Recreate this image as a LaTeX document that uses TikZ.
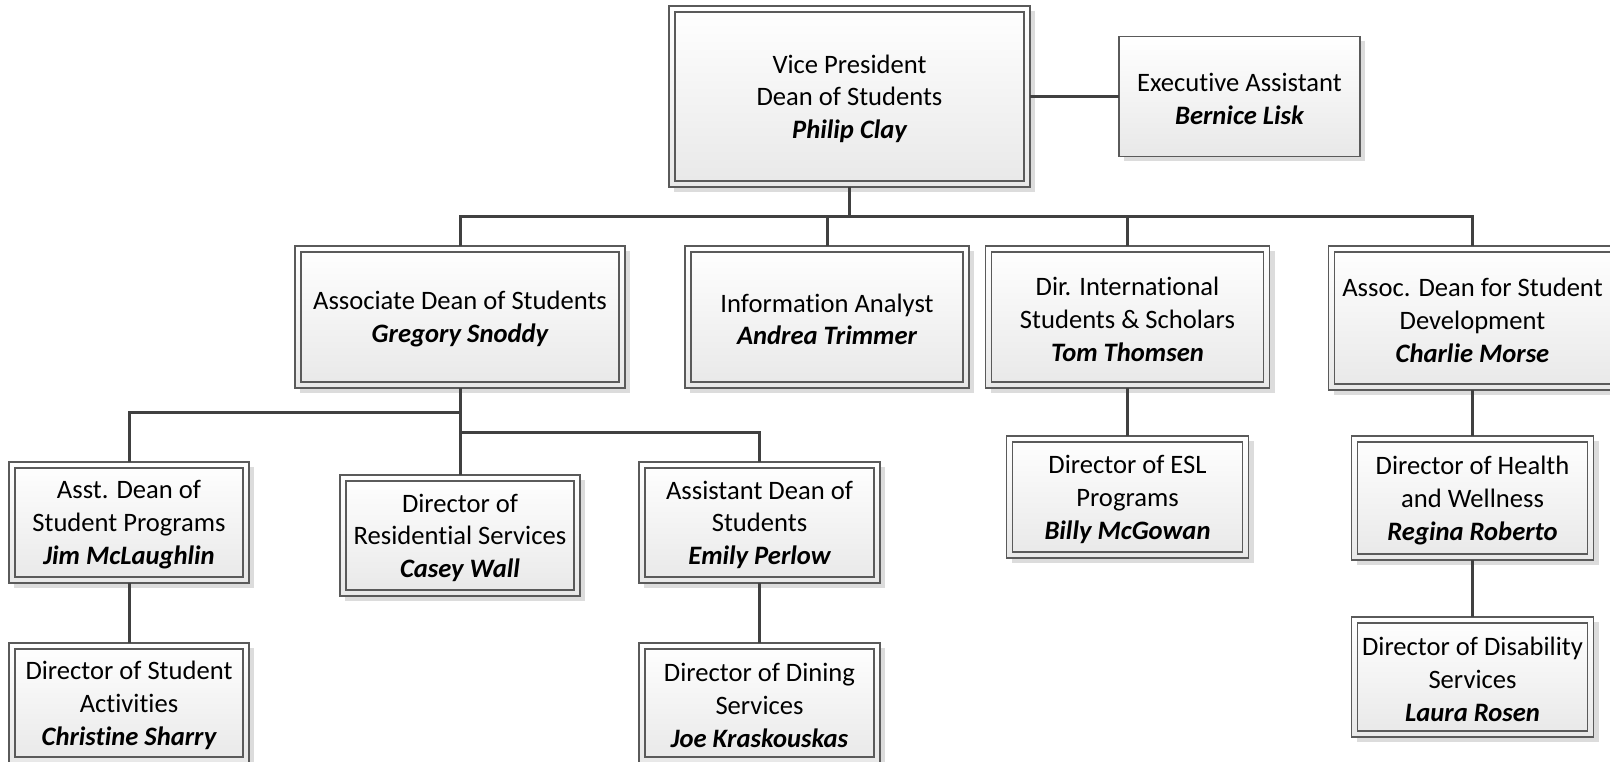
\documentclass[tikz,border=0pt]{standalone}
\usepackage{fontspec}
\setmainfont{Carlito}[RawFeature={-liga;-clig;-calt;-dlig}]
\usetikzlibrary{shadows}
\definecolor{linegray}{HTML}{404040}
\definecolor{bordergray}{HTML}{5A5A5A}
\definecolor{shadowgray}{HTML}{DCDCDC}
\definecolor{boxbot}{HTML}{E8E8E8}
\newcommand\who[1]{{\bfseries\itshape #1}}
% taller first line, so the text block sits a little lower in its box
\newcommand\firstline{\rule{0pt}{23pt}}
% keeps t and i as separate glyphs
\newcommand\zk{\kern0pt }
\begin{document}
\begin{tikzpicture}[x=1pt,y=-1pt,
  box/.style={draw=bordergray, line width=1.3pt, top color=white, bottom color=boxbot,
    inner sep=0pt, outer sep=0pt, align=center,
    font=\fontsize{26.6}{32.8}\selectfont,
    drop shadow={shadow xshift=5pt, shadow yshift=-5pt, fill=shadowgray, opacity=1}},
  inset/.style={path picture={\draw[bordergray, line width=1.3pt]
    ([shift={(6pt,-6pt)}]path picture bounding box.north west) rectangle
    ([shift={(-6pt,6pt)}]path picture bounding box.south east);}},
  card/.style={box, inset},
  dims/.style 2 args={minimum width=#1pt, minimum height=#2pt},
  conn/.style={draw=linegray, line width=3pt}]
\useasboundingbox (0,0) rectangle (1610,762);
\clip (0,0) rectangle (1610,762);

% top level
\node[card, dims={361}{181}] (VP) at (849.5,96.5) {\firstline Vice President\\Dean of Students\\\who{Philip Clay}};
\node[box, dims={241}{120}] (EA) at (1239.5,96.5) {\firstline Execut\zk ive Assistant\\\who{Bernice Lisk}};

% second level
\node[card, dims={330}{142}] (AD) at (460,317) {\firstline Associate Dean of Students\\\who{Gregory Snoddy}};
\node[card, dims={284}{142}] (IA) at (827,317) {\firstline Informat\zk ion Analyst\\\who{Andrea Trimmer}};
\node[card, dims={284}{142}] (DI) at (1127.5,317) {\firstline Dir. Internat\zk ional\\Students \& Scholars\\\who{Tom Thomsen}};
\node[card, dims={288}{144}] (SD) at (1472.5,318) {\firstline Assoc. Dean for Student\\Development\\\who{Charlie Morse}};

% third level
\node[card, dims={240}{121}] (SP) at (129,522.5) {\firstline Asst. Dean of\\Student Programs\\\who{Jim McLaughlin}};
\node[card, dims={240}{121}] (RS) at (460,535.5) {\firstline Director of\\Resident\zk ial Services\\\who{Casey Wall}};
\node[card, dims={241}{121}] (EP) at (759.5,522.5) {\firstline Assistant Dean of\\Students\\\who{Emily Perlow}};
\node[card, dims={242}{122}] (ESL) at (1127.5,497) {\firstline Director of ESL\\Programs\\\who{Billy McGowan}};
\node[card, dims={242}{124}] (HW) at (1472.5,498) {\firstline Director of Health\\and Wellness\\\who{Regina Roberto}};

% fourth level
\node[card, dims={240}{120}] (SA) at (129,703) {\firstline Director of Student\\Act\zk ivit\zk ies\\\who{Christ\zk ine Sharry}};
\node[card, dims={241}{120}] (DD) at (759.5,703) {\firstline Director of Dining\\Services\\\who{Joe Kraskouskas}};
\node[card, dims={242}{120}] (DS) at (1472.5,677) {\firstline Director of Disability\\Services\\\who{Laura Rosen}};

% junction points of the buses
\coordinate (bus1) at (849.5,217);
\coordinate (bus2) at (460,412);
\coordinate (bus3) at (460,432);

% connectors
\draw[conn] (VP.east) -- (VP.east -| EA.west);
\draw[conn] (VP) -- (bus1);
\draw[conn] (AD) |- (bus1) -| (SD);
\draw[conn] (IA) -- (IA |- bus1);
\draw[conn] (DI) -- (DI |- bus1);
\draw[conn] (AD) -- (RS);
\draw[conn] (SP) |- (bus2);
\draw[conn] (EP) |- (bus3);
\draw[conn] (SP) -- (SA);
\draw[conn] (EP) -- (DD);
\draw[conn] (DI) -- (ESL);
\draw[conn] (SD) -- (HW);
\draw[conn] (HW) -- (DS);
\end{tikzpicture}
\end{document}
